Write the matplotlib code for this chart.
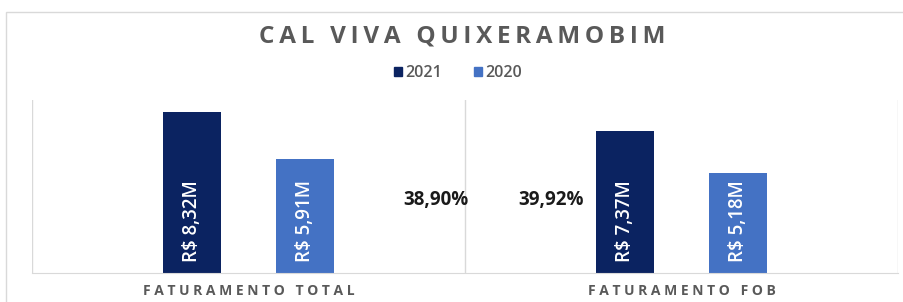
import numpy as np
import matplotlib.pyplot as plt
from matplotlib.patches import Rectangle, Patch

categories = ['FATURAMENTO TOTAL', 'FATURAMENTO FOB']
values_2021 = [8.32, 7.37]
values_2020 = [5.91, 5.18]
labels_2021 = ['R$ 8,32M', 'R$ 7,37M']
labels_2020 = ['R$ 5,91M', 'R$ 5,18M']
growth_labels = ['38,90%', '39,92%']

color_2021 = '#0b2361'
color_2020 = '#4472c4'
grid_color = '#d9d9d9'
text_gray = '#595959'

plt.rcParams['font.family'] = ['Open Sans', 'DejaVu Sans']

fig = plt.figure(figsize=(9.04, 3.02), dpi=100)
fig.patch.set_facecolor('white')

# outer chart border (only top and left visible in the crop)
fig.patches.append(Rectangle((6 / 904, -0.1), 1.2, 1 - 12 / 302 + 0.1,
                             transform=fig.transFigure, fill=False,
                             edgecolor=grid_color, linewidth=1.0))

ax = fig.add_axes([32 / 904, 29 / 302, 866 / 904, 173 / 302])
x = np.arange(len(categories))
w = 0.134
off = 0.13
b1 = ax.bar(x - off, values_2021, w, color=color_2021, label='2021')
b2 = ax.bar(x + off, values_2020, w, color=color_2020, label='2020')

for bars, labels in ((b1, labels_2021), (b2, labels_2020)):
    for bar, lab in zip(bars, labels):
        ax.text(bar.get_x() + bar.get_width() / 2, 0.55, lab, rotation=90,
                ha='center', va='bottom', color='white', fontsize=13.5,
                fontweight='semibold', fontstretch='condensed')

# growth labels
ax.text(0.433, 3.78, growth_labels[0], ha='center', va='center',
        fontsize=13.5, fontweight='bold', color='#1a1a1a')
ax.text(1 - 0.302, 3.78, growth_labels[1], ha='center', va='center',
        fontsize=13.5, fontweight='bold', color='#1a1a1a')

ax.set_xlim(-0.5, 1.5)
ax.set_ylim(0, 8.96)
for xv in (-0.5, 0.5, 1.5):
    ax.axvline(xv, color=grid_color, linewidth=1.0)
for s in ('left', 'right', 'top'):
    ax.spines[s].set_visible(False)
ax.spines['bottom'].set_color(grid_color)
ax.set_yticks([])
ax.set_xticks(x)
ax.set_xticklabels([' '.join(c) for c in categories],
                   fontsize=10, fontweight='bold', color=text_gray)
ax.tick_params(axis='x', length=0, pad=8)

fig.text(462 / 904, 1 - 36 / 302, '\u200a\u200a'.join('CAL VIVA QUIXERAMOBIM'),
         ha='center', va='center', fontsize=17.5, fontweight='bold', color=text_gray)

handles = [Patch(color=color_2021, label='2021'), Patch(color=color_2020, label='2020')]
fig.legend(handles=handles, loc='center', bbox_to_anchor=(458 / 904, 1 - 73 / 302), ncol=2,
           frameon=False, handlelength=0.5, handleheight=0.5,
           handletextpad=0.2, columnspacing=2.0, labelcolor=text_gray,
           prop={'weight': 'semibold', 'size': 11.5})

fig.savefig('out.png', dpi=100)
